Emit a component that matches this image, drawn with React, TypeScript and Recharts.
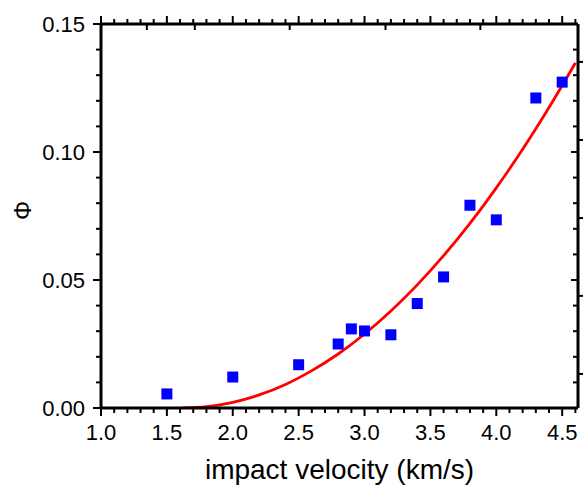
import React from "react";
import {
  ComposedChart,
  XAxis,
  YAxis,
  Scatter,
  Line,
} from "recharts";

// measured points
const velocity = [1.5, 2.0, 2.5, 2.8, 2.9, 3.0, 3.2, 3.4, 3.6, 3.8, 4.0, 4.3, 4.5];
const phi = [0.0055, 0.0121, 0.0169, 0.025, 0.0309, 0.0301, 0.0286, 0.0408, 0.0512, 0.0792, 0.0735, 0.1211, 0.1273];

// red fit curve
const fitVelocity = [1.62, 1.8, 2.0, 2.2, 2.4, 2.6, 2.8, 3.0, 3.2, 3.4, 3.6, 3.8, 4.0, 4.2, 4.4, 4.6];
const fitPhi = [0.0, 0.0005, 0.0022, 0.0051, 0.0092, 0.0146, 0.0211, 0.0289, 0.0379, 0.0481, 0.0595, 0.0721, 0.086, 0.1011, 0.1174, 0.1348];

const xTicks = [1.0, 1.1, 1.2, 1.3, 1.4, 1.5, 1.6, 1.7, 1.8, 1.9, 2.0, 2.1, 2.2, 2.3, 2.4, 2.5, 2.6, 2.7, 2.8, 2.9, 3.0, 3.1, 3.2, 3.3, 3.4, 3.5, 3.6, 3.7, 3.8, 3.9, 4.0, 4.1, 4.2, 4.3, 4.4, 4.5, 4.6];
const yTicks = [0, 0.01, 0.02, 0.03, 0.04, 0.05, 0.06, 0.07, 0.08, 0.09, 0.1, 0.11, 0.12, 0.13, 0.14, 0.15];
// extra ticks on the top / right frame
const topInnerTicks = [1.348, 1.712, 2.432, 3.159, 3.879];
const rightOuterTicks = [0.1352, 0.1047, 0.0742, 0.0438, 0.0133];

const points = velocity.map((v, i) => ({ x: v, y: phi[i] }));
const fit = fitVelocity.map((v, i) => ({ x: v, y: fitPhi[i] }));

const FONT = "'Liberation Sans', Arial, sans-serif";

const isMajorX = (v: number) => Math.round(v * 10) % 5 === 0;
const isMajorY = (v: number) => Math.round(v * 100) % 5 === 0;

const BottomTick = (props: any) => {
  const { x, y, payload } = props;
  const major = isMajorX(payload.value);
  return (
    <g>
      <line x1={x} y1={y} x2={x} y2={y + (major ? 8 : 5)} stroke="#000" strokeWidth={2} />
      {major && (
        <text x={x} y={y + 32} textAnchor="middle" fontSize={22} fontFamily={FONT} fill="#000">
          {payload.value.toFixed(1)}
        </text>
      )}
    </g>
  );
};

const TopTick = (props: any) => {
  const { x, y, payload } = props;
  if (topInnerTicks.includes(payload.value)) {
    return <line x1={x} y1={y} x2={x} y2={y + 6} stroke="#000" strokeWidth={2} />;
  }
  const major = isMajorX(payload.value);
  return <line x1={x} y1={y} x2={x} y2={y - (major ? 8 : 5)} stroke="#000" strokeWidth={2} />;
};

const LeftTick = (props: any) => {
  const { x, y, payload } = props;
  const major = isMajorY(payload.value);
  return (
    <g>
      <line x1={x} y1={y} x2={x - (major ? 8 : 5)} y2={y} stroke="#000" strokeWidth={2} />
      {major && (
        <text x={x - 16} y={y + 8} textAnchor="end" fontSize={22} fontFamily={FONT} fill="#000">
          {payload.value.toFixed(2)}
        </text>
      )}
    </g>
  );
};

const RightTick = (props: any) => {
  const { x, y, payload } = props;
  if (rightOuterTicks.includes(payload.value)) {
    return <line x1={x} y1={y} x2={x + 5} y2={y} stroke="#000" strokeWidth={2} />;
  }
  const major = isMajorY(payload.value);
  return <line x1={x} y1={y} x2={x - (major ? 7 : 5)} y2={y} stroke="#000" strokeWidth={2} />;
};

const Square = (props: any) => {
  const { cx, cy } = props;
  return <rect x={cx - 5.5} y={cy - 5.5} width={11} height={11} fill="#0000ff" />;
};

const App: React.FC = () => {
  return (
    <div style={{ position: "absolute", left: 0, top: 0, background: "#fff" }}>
      <ComposedChart width={583} height={487} margin={{ top: 0, right: 0, bottom: 0, left: 0 }}>
        <XAxis
          xAxisId="bottom"
          dataKey="x"
          type="number"
          domain={[1, 4.62]}
          allowDataOverflow
          ticks={xTicks}
          interval={0}
          tickSize={0}
          tickMargin={0}
          tickLine={false}
          tick={<BottomTick />}
          axisLine={{ stroke: "#000", strokeWidth: 3 }}
          height={79}
          label={{
            value: "impact velocity (km/s)",
            position: "insideBottom",
            offset: 8,
            fontSize: 28,
            fontFamily: FONT,
            fill: "#000",
          }}
        />
        <XAxis
          xAxisId="top"
          dataKey="x"
          type="number"
          orientation="top"
          domain={[1, 4.62]}
          allowDataOverflow
          ticks={[...xTicks, ...topInnerTicks]}
          interval={0}
          tickSize={0}
          tickMargin={0}
          tickLine={false}
          tick={<TopTick />}
          axisLine={{ stroke: "#000", strokeWidth: 3 }}
          height={24}
        />
        <YAxis
          yAxisId="left"
          dataKey="y"
          type="number"
          domain={[0, 0.15]}
          allowDataOverflow
          ticks={yTicks}
          interval={0}
          tickSize={0}
          tickMargin={0}
          tickLine={false}
          tick={<LeftTick />}
          axisLine={{ stroke: "#000", strokeWidth: 3 }}
          width={101}
          label={{
            value: "Φ",
            angle: -90,
            position: "insideLeft",
            offset: 22,
            dy: 4,
            fontSize: 24,
            fontFamily: FONT,
            fill: "#000",
          }}
        />
        <YAxis
          yAxisId="right"
          dataKey="y"
          type="number"
          orientation="right"
          domain={[0, 0.15]}
          allowDataOverflow
          ticks={[...yTicks, ...rightOuterTicks]}
          interval={0}
          tickSize={0}
          tickMargin={0}
          tickLine={false}
          tick={<RightTick />}
          axisLine={{ stroke: "#000", strokeWidth: 3 }}
          width={5}
        />
        <Line
          xAxisId="bottom"
          yAxisId="left"
          data={fit}
          dataKey="y"
          type="monotone"
          stroke="#ff0000"
          strokeWidth={2.8}
          dot={false}
          activeDot={false}
          isAnimationActive={false}
        />
        <Scatter
          xAxisId="bottom"
          yAxisId="left"
          data={points}
          dataKey="y"
          shape={<Square />}
          isAnimationActive={false}
        />
        <Scatter xAxisId="top" yAxisId="right" data={points} dataKey="y" shape={() => <g />} isAnimationActive={false} />
      </ComposedChart>
    </div>
  );
};

export default App;
